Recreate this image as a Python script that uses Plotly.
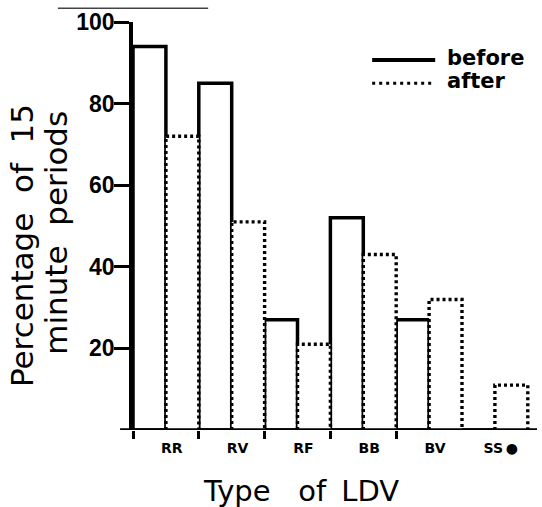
import plotly.graph_objects as go

# ---- data ----
categories = ["RR", "RV", "RF", "BB", "BV", "SS"]
tick_labels = ["RR", "RV", "RF", "BB", "BV", "SS\u2009●"]
before = [94, 85, 27, 52, 27, 0]
after = [72, 51, 21, 43, 32, 11]
y_ticks = [20, 40, 60, 80, 100]

idx = list(range(len(categories)))

fig = go.Figure()

# "before" bars: solid outline, left half of each group
fig.add_trace(go.Bar(
    x=idx, y=before, name="before", width=0.5, offset=-0.5,
    marker=dict(color="white", line=dict(color="black", width=3.5)),
    showlegend=False, hoverinfo="skip",
))
# "after" bars: white fill, right half of each group
fig.add_trace(go.Bar(
    x=idx, y=after, name="after", width=0.5, offset=0,
    marker=dict(color="white", line=dict(color="white", width=0)),
    showlegend=False, hoverinfo="skip",
))
# dotted outline of the "after" bars, built from the same data
ox, oy = [], []
for i, v in zip(idx, after):
    ox += [i, i, i + 0.5, i + 0.5, None]
    oy += [0, v, v, 0, None]
fig.add_trace(go.Scatter(
    x=ox, y=oy, mode="lines", name="after outline",
    line=dict(color="black", width=3.4, dash="3px,3px"),
    showlegend=False, hoverinfo="skip",
))

axis_font = dict(family="Liberation Sans, Arial", size=23, color="black", weight="bold")

fig.update_layout(
    width=542, height=507, autosize=False,
    margin=dict(l=133, r=5, t=22, b=77),
    paper_bgcolor="white", plot_bgcolor="white",
    barmode="overlay",
    showlegend=False,
    xaxis=dict(
        range=[-0.5, 5.64], showgrid=False, zeroline=False, showline=False,
        automargin=False,
        tickmode="array", tickvals=[i + 0.09 for i in idx], ticktext=tick_labels,
        ticks="outside", ticklen=5, tickcolor="rgba(0,0,0,0)",
        tickfont=dict(family="DejaVu Sans", size=14, color="black", weight="bold"),
        minor=dict(tickmode="array", tickvals=[i - 0.5 for i in idx[:-1]],
                   ticks="outside", ticklen=8, tickwidth=3, tickcolor="black",
                   showgrid=False),
    ),
    yaxis=dict(
        range=[0, 100], showgrid=False, zeroline=False, automargin=False,
        showline=True, linecolor="black", linewidth=3.5,
        tickmode="array", tickvals=y_ticks,
        ticks="outside", ticklen=15, tickwidth=3, tickcolor="black",
        ticklabelstandoff=-5,
        tickfont=axis_font,
    ),
)

# x axis line (extends a little left of the y axis, as in the reference)
fig.add_shape(type="line", xref="paper", yref="y", x0=-0.032, x1=1.0, y0=0, y1=0,
              line=dict(color="black", width=3.5))
# faint scan line at top
fig.add_shape(type="line", xref="paper", yref="paper", x0=-0.186, x1=0.186, y0=1.034, y1=1.034,
              line=dict(color="#444", width=1.5))

# legend drawn by hand
fig.add_shape(type="line", xref="paper", yref="paper", x0=0.592, x1=0.748, y0=0.907, y1=0.907,
              line=dict(color="black", width=4))
fig.add_shape(type="line", xref="paper", yref="paper", x0=0.592, x1=0.748, y0=0.850, y1=0.850,
              line=dict(color="black", width=3, dash="3px,4px"))
leg_font = dict(family="DejaVu Sans", size=21, color="black", weight="bold")
fig.add_annotation(text="before", xref="paper", yref="paper", x=0.772, y=0.912,
                   xanchor="left", yanchor="middle", showarrow=False, font=leg_font)
fig.add_annotation(text="after", xref="paper", yref="paper", x=0.772, y=0.855,
                   xanchor="left", yanchor="middle", showarrow=False, font=leg_font)

# axis titles
title_font = dict(family="DejaVu Sans", size=31, color="black")
fig.add_annotation(text="Percentage\u00a0 of\u00a0 15", xref="paper", yref="paper",
                   x=-0.275, y=0.453, xanchor="center", yanchor="middle",
                   textangle=-90, showarrow=False, font=title_font)
fig.add_annotation(text="minute\u00a0 periods", xref="paper", yref="paper",
                   x=-0.191, y=0.483, xanchor="center", yanchor="middle",
                   textangle=-90, showarrow=False, font=title_font)
fig.add_annotation(text="Type\u00a0\u00a0 of\u2009 LDV", xref="paper", yref="paper",
                   x=0.416, y=-0.150, xanchor="center", yanchor="middle",
                   showarrow=False, font=dict(family="DejaVu Sans", size=29, color="black"))

fig.write_html(
    "out.html",
    config={"displayModeBar": False},
    post_script="document.body.style.margin='0px';document.body.style.overflow='hidden';",
)
